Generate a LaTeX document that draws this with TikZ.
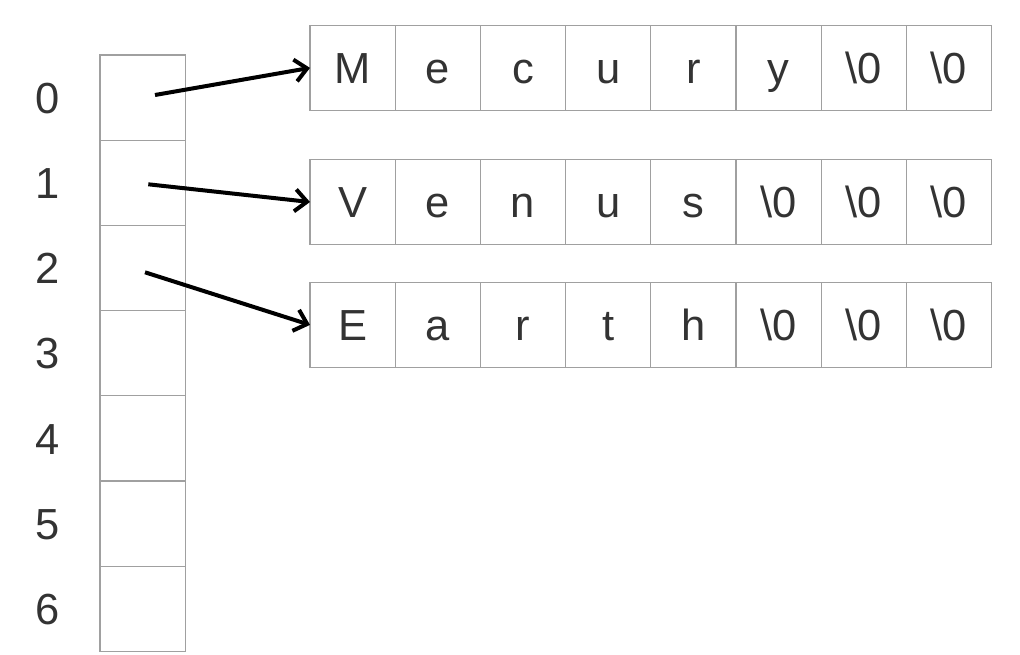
\documentclass[tikz,border=0pt]{standalone}
\usepackage{fontspec}
\setmainfont{Liberation Sans}
\usetikzlibrary{arrows.meta}
\definecolor{txt}{HTML}{333333}
\definecolor{ln}{HTML}{A0A0A0}
\begin{document}
\begin{tikzpicture}[x=1pt,y=-1pt,
  cell/.style={draw=ln,line width=1.2pt,minimum width=85.2pt,minimum height=85.2pt,inner sep=0pt,outer sep=0pt,text=txt,text height=31.2pt,text depth=0pt,font=\fontsize{43.5}{45}\selectfont},
  idx/.style={text=txt,font=\fontsize{43.5}{45}\selectfont,inner sep=0pt,text height=31.2pt,text depth=0pt},
  ptr/.style={line width=4pt,-{Straight Barb[length=12pt,width=22pt]}}]
\useasboundingbox[fill=white] (0,0) rectangle (1020,655);
% left column
\foreach \i in {0,...,6}{
  \node[cell] (c\i) at (142.6,{97.6+85.2*\i}) {};
  \node[idx] (l\i) at (48,{97.6+85.2*\i}) {\i};
}
% arrays
\foreach \t [count=\j from 0] in {M,e,c,u,r,y,\textbackslash 0,\textbackslash 0}{
  \node[cell] (a\j) at ({352.6+85.2*\j},67.9) {\t};
}
\foreach \t [count=\j from 0] in {V,e,n,u,s,\textbackslash 0,\textbackslash 0,\textbackslash 0}{
  \node[cell] (b\j) at ({352.6+85.2*\j},202) {\t};
}
\foreach \t [count=\j from 0] in {E,a,r,t,h,\textbackslash 0,\textbackslash 0,\textbackslash 0}{
  \node[cell] (e\j) at ({352.6+85.2*\j},324.9) {\t};
}
% pointers
\coordinate (s0) at ([shift={(12.4,-2.6)}]c0.center);
\coordinate (s1) at ([shift={(5.7,1.5)}]c1.center);
\coordinate (s2) at ([shift={(2.4,4.3)}]c2.center);
\draw[ptr] (s0) -- (a0.west);
\draw[ptr] (s1) -- (b0.west);
\draw[ptr] (s2) -- (e0.west);
\end{tikzpicture}
\end{document}
